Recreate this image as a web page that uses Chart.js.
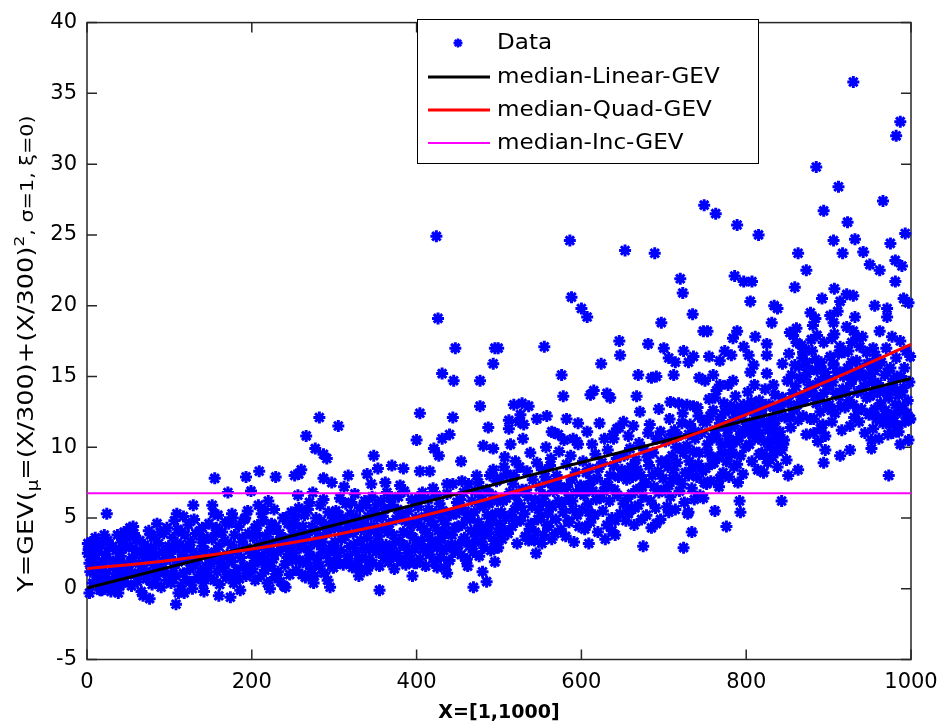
<!DOCTYPE html>
<html>
<head>
<title>GEV median fits</title>
<script src="https://cdn.jsdelivr.net/npm/chart.js"></script>
<style>
body { margin: 0; background: #fff; }
canvas { display: block; }
</style>
</head>
<body>
<canvas id="gevChart" width="941" height="728"></canvas>
<script>
// scatter points, [x, y]
const ptsLeft = [
  [2,2.8],[4,1.2],[5,3.3],[7,0.4],[8,2.1],[10,3.6],[11,1.6],[13,0.9],[14,2.6],[16,-0.1],[17,3.1],[19,1.9],[20,0.3],[22,2.4],[23,1.1],[25,3.4],[26,0.6],[28,2.0],[29,-0.2],[31,3.0],[32,1.5],[34,0.8],[35,2.7],[37,3.8],[38,1.2],[40,0.2],[41,2.3],[43,3.3],[44,1.7],[46,0.5],[47,2.9],[49,1.0],[3,1.8],[9,2.9],[21,3.8],[36,1.9],[45,4.0],[30,0.0],[12,3.2],
  [24,5.3],[3,-0.3],[18,-0.1],[38,-0.3],[1,2.5],[1,3.2],
  [6,2.4],[15,1.4],[27,2.9],[33,0.2],[39,2.8],[42,0.9],[48,3.6],[18,0.6],
  [51,1.3],[52,3.0],[54,0.2],[55,2.2],[57,3.9],[58,1.0],[60,2.7],[61,0.5],[63,1.8],[64,3.4],[66,-0.2],[67,2.4],[69,1.4],[70,3.1],[72,0.7],[73,2.0],[75,4.1],[76,1.1],[78,2.9],[79,0.3],[81,1.7],[82,3.6],[84,2.4],[85,0.9],[87,3.2],[88,1.5],[90,0.1],[91,2.6],[93,3.9],[94,1.2],[96,2.1],[97,0.6],[99,3.0],[56,4.4],[68,-0.5],[80,2.3],[89,4.0],
  [52,4.3],[76,-0.7],[85,4.6],[97,4.3],
  [53,1.9],[59,3.5],[62,1.1],[71,2.6],[77,3.8],[83,0.4],[92,1.8],[98,2.7],
  [101,2.2],[102,0.4],[104,3.6],[105,1.5],[107,2.8],[108,0.9],[110,4.2],[111,1.9],[113,3.1],[114,0.2],[116,2.4],[117,1.1],[119,3.8],[120,0.6],[122,2.0],[123,4.5],[125,1.4],[126,3.3],[128,0.0],[129,2.6],[131,1.7],[132,3.9],[134,0.8],[135,2.3],[137,4.1],[138,1.2],[140,3.0],[141,0.4],[143,2.7],[144,1.6],[146,3.6],[147,0.9],[149,2.1],[106,4.8],[118,-0.3],[130,4.9],[142,-0.2],[148,4.6],
  [109,5.3],[117,5.1],[129,5.9],[108,-1.1],[111,-0.3],[140,4.3],
  [103,1.0],[109,3.2],[115,4.0],[121,2.9],[127,0.5],[133,2.0],[139,3.5],[145,1.3],
  [151,1.8],[152,3.5],[154,0.6],[155,2.6],[157,4.3],[158,1.2],[160,3.0],[161,0.3],[163,2.1],[164,4.0],[166,1.5],[167,3.4],[169,0.8],[170,2.4],[172,4.6],[173,1.0],[175,3.1],[176,1.9],[178,0.4],[179,3.8],[181,2.7],[182,1.3],[184,4.4],[185,0.7],[187,2.2],[188,3.3],[190,1.6],[191,4.9],[193,0.9],[194,2.9],[196,3.9],[197,1.1],[199,2.5],[159,5.2],[177,5.0],[186,-0.1],[195,5.5],
  [155,7.8],[152,5.9],[171,6.8],[193,7.9],[199,6.9],[160,-0.5],[174,-0.6],[176,5.3],[192,5.0],[154,5.3],
  [153,2.0],[156,3.9],[162,1.8],[168,4.7],[174,2.2],[180,0.9],[189,3.6],[198,1.6],
  [201,1.4],[202,3.6],[204,0.6],[205,2.5],[207,4.5],[208,1.9],[210,3.2],[211,0.9],[213,2.3],[214,4.8],[216,1.3],[217,3.7],[219,0.4],[220,2.8],[222,4.1],[223,1.6],[225,3.3],[226,2.1],[228,0.8],[229,4.4],[231,2.6],[232,1.2],[234,3.9],[235,0.5],[237,2.9],[238,5.0],[240,1.7],[241,3.5],[243,2.2],[244,4.6],[246,1.0],[247,3.0],[249,2.0],[212,5.3],[227,5.6],[239,0.2],[248,5.4],
  [209,8.3],[229,7.9],[220,6.2],[216,5.6],[222,0.0],[241,0.1],[208,5.9],[204,4.3],[224,4.6],[241,5.0],[249,4.3],
  [203,2.2],[206,3.9],[215,3.0],[218,1.8],[224,2.5],[230,1.0],[236,3.4],[245,2.7]
];
const ptsMidLeft = [
  [251,2.5],[252,4.6],[254,1.3],[255,3.4],[257,5.7],[258,2.0],[260,4.0],[261,1.0],[263,3.0],[264,5.2],[266,1.8],[267,3.8],[269,2.6],[270,6.1],[272,1.4],[273,4.4],[275,3.2],[276,0.9],[278,5.0],[279,2.2],[281,3.6],[282,1.6],[284,4.8],[285,2.8],[287,6.3],[288,1.1],[290,3.9],[291,2.4],[293,5.4],[294,1.9],[296,4.2],[297,3.0],[299,1.5],[256,6.6],[274,6.8],[292,0.6],
  [266,10.8],[282,12.1],[277,9.9],[287,9.5],[291,9.2],[260,8.4],[257,8.1],[287,7.8],[297,7.5],[265,0.8],[275,0.4],[295,0.1],[252,8.0],
  [250,3.8],[253,5.1],[259,2.9],[262,4.4],[265,3.5],[268,5.6],[271,2.3],[277,4.1],[280,1.8],[283,5.9],[286,3.3],[289,4.5],[295,2.6],[298,5.0],[262,1.9],
  [301,3.3],[302,5.5],[304,2.0],[305,4.3],[307,6.4],[308,2.7],[310,4.9],[311,1.7],[313,3.7],[314,6.0],[316,2.3],[317,4.6],[319,3.0],[320,5.3],[322,1.5],[323,3.9],[325,6.7],[326,2.6],[328,4.4],[329,1.9],[331,5.7],[332,3.4],[334,2.2],[335,4.8],[337,6.2],[338,1.4],[340,3.6],[341,5.1],[343,2.8],[344,4.1],[346,6.5],[347,1.8],[349,3.2],[312,7.2],[330,0.9],[345,7.4],
  [305,11.5],[317,8.0],[340,8.1],[348,9.4],[328,1.5],[340,1.3],[299,1.5],
  [300,4.6],[303,2.6],[306,5.2],[309,3.5],[315,4.0],[318,1.9],[321,6.1],[324,3.1],[327,5.0],[333,4.2],[336,2.9],[339,5.9],[342,2.1],[345,4.4],[348,5.5],
  [351,2.6],[352,5.0],[354,3.7],[355,1.6],[357,6.2],[358,4.3],[360,2.2],[361,5.6],[363,3.1],[364,6.8],[366,1.9],[367,4.6],[369,2.9],[370,5.9],[372,3.8],[373,1.4],[375,4.9],[376,2.5],[378,6.5],[379,3.4],[381,5.2],[382,2.0],[384,4.0],[385,6.9],[387,1.7],[388,3.0],[390,5.5],[391,2.3],[393,4.5],[394,6.3],[396,3.6],[397,1.8],[399,5.0],[362,7.5],[380,7.3],[395,0.9],
  [355,-0.1],[353,8.5],[370,8.7],[384,8.5],[380,2.0],
  [350,4.2],[353,6.0],[356,3.0],[359,5.1],[362,2.6],[365,4.0],[368,6.4],[371,2.3],[374,3.3],[377,5.6],[383,3.1],[386,4.8],[389,2.5],[392,3.9],[398,2.8],
  [401,3.2],[402,5.8],[404,2.1],[405,4.4],[407,6.8],[408,2.8],[410,5.1],[411,1.6],[413,3.9],[414,6.3],[416,2.4],[417,4.8],[419,3.4],[420,7.1],[422,1.9],[423,5.4],[425,2.9],[426,4.1],[428,6.0],[429,2.2],[431,3.6],[432,5.5],[434,1.5],[435,4.6],[437,6.7],[438,3.0],[440,2.0],[441,5.2],[443,3.8],[444,7.4],[446,2.6],[447,4.3],[449,6.1],
  [426,19.1],[447,17.0],[431,15.2],[445,14.7],[404,12.4],[444,12.1],[400,10.5],[431,10.6],[440,10.9],[421,9.9],[427,9.4],[404,8.3],[416,8.3],[437,7.4],[437,1.1],[400,1.8],[425,1.5],[424,24.9],
  [400,4.7],[403,6.4],[406,3.4],[409,4.2],[412,2.6],[415,5.6],[418,3.1],[421,4.5],[424,6.6],[427,3.3],[430,5.0],[433,2.7],[436,4.0],[442,3.1],[448,5.3],
  [451,3.1],[452,5.6],[454,2.4],[455,4.5],[457,6.8],[458,3.6],[460,2.0],[461,5.0],[463,7.4],[464,3.0],[466,4.1],[467,6.2],[469,2.6],[470,5.4],[472,3.7],[473,8.0],[475,4.7],[476,2.3],[478,6.5],[479,3.3],[481,5.8],[482,2.9],[484,4.3],[485,7.0],[487,3.9],[488,6.0],[490,2.7],[491,4.9],[493,8.4],[494,3.4],[496,5.3],[497,7.6],[499,4.0],[462,1.6],[480,1.2],[495,1.9],
  [495,17.0],[493,15.9],[477,14.7],[477,12.9],[487,11.4],[454,9.0],[481,10.1],[493,9.9],[455,7.6],[475,7.5],[489,8.0],[461,2.1],[469,0.1],[485,0.5],[497,2.9],[499,17.0],
  [450,4.4],[453,6.3],[456,3.4],[459,5.5],[465,4.9],[468,3.2],[471,6.9],[474,4.2],[477,5.9],[483,3.8],[486,5.2],[489,4.5],[492,6.6],[495,3.0],[498,6.2]
];
const ptsMidRight = [
  [501,4.6],[502,7.8],[504,3.5],[505,6.2],[507,9.3],[508,5.0],[510,8.1],[511,3.9],[513,6.8],[514,10.2],[516,4.4],[517,7.4],[519,5.6],[520,9.0],[522,3.2],[523,6.0],[525,8.6],[526,4.8],[528,7.0],[529,10.6],[531,5.3],[532,3.7],[534,8.3],[535,6.5],[537,4.2],[538,9.6],[540,5.8],[541,7.7],[543,3.4],[544,6.3],[546,8.9],[547,4.9],[549,7.2],[512,11.3],[530,11.6],[545,2.5],
  [518,13.0],[528,13.1],[536,12.9],[526,12.3],[524,11.8],[512,11.9],[546,12.0],[499,2.9],[536,3.4],[520,4.8],[507,4.1],[544,4.0],
  [503,5.4],[506,8.6],[509,6.4],[515,5.2],[518,8.0],[521,6.6],[527,5.8],[533,7.0],[539,4.6],[548,5.6],
  [551,5.1],[552,8.4],[554,3.8],[555,6.6],[557,10.0],[558,4.5],[560,7.5],[561,5.9],[563,9.2],[564,3.5],[566,6.9],[567,11.0],[569,4.9],[570,8.0],[572,6.2],[573,9.7],[575,4.2],[576,7.1],[578,5.4],[579,10.5],[581,3.7],[582,8.8],[584,6.4],[585,4.7],[587,9.4],[588,7.7],[590,5.6],[591,3.3],[593,8.2],[594,6.8],[596,10.2],[597,4.4],[599,7.3],
  [586,24.6],[588,20.6],[555,17.1],[576,15.1],[578,13.6],[558,12.2],[582,12.0],[596,11.7],[564,11.1],[572,10.9],[590,10.6],[594,10.4],[552,3.2],[584,4.8],[568,3.9],[560,4.4],
  [553,6.1],[556,7.9],[559,5.3],[562,8.7],[565,5.8],[571,7.4],[577,6.0],[583,7.2],[589,6.2],[595,5.2],
  [601,5.6],[602,9.0],[604,4.2],[605,7.2],[607,11.1],[608,6.0],[610,8.5],[611,4.7],[613,10.2],[614,6.9],[616,5.2],[617,9.5],[619,7.8],[620,4.0],[622,11.7],[623,6.4],[625,8.9],[626,5.5],[628,10.6],[629,7.4],[631,4.5],[632,9.8],[634,6.2],[635,8.0],[637,5.0],[638,10.9],[640,7.0],[641,3.8],[643,9.2],[644,6.6],[646,11.4],[647,5.3],[649,8.4],
  [600,19.8],[607,19.2],[624,15.9],[615,14.0],[611,13.7],[631,13.8],[635,13.5],[643,11.3],[639,10.6],[609,3.2],[629,3.5],[613,5.2],[605,4.4],[641,4.8],[637,4.1],[646,17.5],[647,16.5],
  [603,6.6],[606,8.2],[609,5.4],[612,7.6],[618,6.3],[621,8.5],[627,6.9],[633,7.3],[639,8.7],[645,7.9],
  [651,6.0],[652,9.4],[654,4.8],[655,7.7],[657,10.8],[658,5.5],[660,8.6],[661,6.7],[663,11.5],[664,4.5],[666,9.1],[667,7.0],[669,5.9],[670,10.3],[672,8.0],[673,4.9],[675,6.5],[676,9.8],[678,7.5],[679,5.2],[681,11.0],[682,8.7],[684,6.2],[685,4.3],[687,9.6],[688,7.2],[690,5.7],[691,10.6],[693,8.3],[694,6.8],[696,4.9],[697,9.0],[699,7.8],
  [653,23.9],[689,23.7],[697,18.8],[681,17.3],[700,17.0],[669,15.1],[685,14.9],[691,15.0],[667,13.6],[694,12.7],[671,12.5],[651,11.8],[683,11.6],[696,11.1],[675,3.0],[691,4.6],[661,5.7],[657,5.3],
  [653,8.1],[656,6.4],[659,9.9],[662,7.9],[665,5.7],[668,8.4],[674,7.2],[680,9.3],[686,8.0],[692,7.0],
  [701,7.0],[702,10.4],[704,5.8],[705,8.6],[707,12.0],[708,6.5],[710,9.4],[711,7.8],[713,11.2],[714,5.6],[716,8.9],[717,10.8],[719,6.9],[720,9.9],[722,7.4],[723,12.4],[725,6.1],[726,8.2],[728,10.1],[729,5.3],[731,9.0],[732,11.6],[734,7.1],[735,8.5],[737,6.3],[738,10.6],[740,7.9],[741,12.8],[743,9.6],[744,6.6],[746,11.0],[747,8.3],[749,7.5],
  [720,21.9],[723,20.9],[735,19.4],[748,18.2],[706,16.3],[714,16.0],[724,16.8],[736,16.4],[730,16.0],[712,15.1],[743,14.9],[708,13.2],[718,13.1],[728,13.0],[736,12.9],[742,12.2],[748,11.8],[722,11.7],[730,10.9],[738,11.1],[724,2.9],[706,5.4],[730,5.4],[734,4.0],[749,27.1],
  [703,9.0],[706,7.3],[709,10.9],[712,8.4],[715,10.0],[718,7.7],[724,9.6],[730,8.0],[736,9.7],[742,8.8]
];
const ptsRight = [
  [751,8.5],[752,11.8],[754,9.6],[755,13.4],[757,7.6],[758,10.7],[760,12.6],[761,8.9],[763,11.2],[764,14.0],[766,9.3],[767,7.2],[769,12.1],[770,10.2],[772,8.2],[773,13.1],[775,11.5],[776,9.0],[778,10.8],[779,7.9],[781,12.9],[782,9.8],[784,11.9],[785,8.6],[787,13.6],[788,10.4],[790,7.5],[791,12.3],[793,9.4],[794,11.1],[796,8.1],[797,13.0],[799,10.0],
  [763,26.5],[789,25.7],[786,22.1],[797,21.7],[753,18.2],[789,18.2],[784,17.7],[774,16.8],[782,16.5],[797,17.1],[755,16.4],[768,16.1],[750,14.7],[760,15.1],[768,14.4],[778,14.4],[784,14.7],[758,8.8],[768,7.8],[752,7.4],[748,6.4],[762,5.5],[776,4.4],[792,6.2],[793,5.4],[782,9.5],[789,8.8],
  [753,10.2],[756,12.2],[759,9.2],[762,13.5],[765,10.6],[768,11.7],[771,9.6],[774,12.5],[777,11.2],[780,10.3],[783,12.6],[786,11.5],[789,12.8],[792,10.7],[795,12.0],
  [801,11.4],[802,13.9],[804,10.2],[805,12.6],[807,9.0],[808,11.8],[810,14.4],[811,10.7],[813,12.2],[814,8.4],[816,13.3],[817,11.0],[819,9.6],[820,12.8],[822,10.4],[823,14.1],[825,11.6],[826,8.9],[828,13.0],[829,10.0],[831,12.0],[832,9.3],[834,11.3],[835,13.7],[837,10.8],[838,8.6],[840,12.5],[841,11.1],[843,9.8],[844,13.5],[846,10.5],[847,12.1],[849,9.1],
  [815,25.0],[807,21.7],[805,20.3],[834,20.0],[838,19.8],[831,18.8],[811,17.8],[825,17.3],[803,16.5],[825,16.5],[805,15.3],[809,15.8],[844,15.9],[825,15.2],[833,14.4],[816,9.5],[825,9.2],[821,8.2],[843,6.2],[837,9.7],[845,10.2],[801,11.3],[809,10.9],
  [800,12.6],[803,11.0],[806,13.2],[809,12.9],[812,11.5],[815,10.6],[818,12.4],[821,11.8],[824,13.0],[827,11.2],[830,10.5],[833,12.8],[836,11.9],[839,10.2],[842,12.9],
  [851,13.2],[852,16.6],[854,11.4],[855,15.1],[857,17.9],[858,12.6],[860,14.3],[861,18.4],[863,11.9],[864,15.7],[866,13.6],[867,17.2],[869,12.2],[870,14.8],[872,16.9],[873,10.9],[875,13.9],[876,15.5],[878,12.0],[879,17.6],[881,14.2],[882,11.0],[884,16.2],[885,13.1],[887,10.4],[888,14.6],[890,12.5],[891,16.0],[893,11.6],[894,13.8],[896,10.8],[897,15.0],[899,12.9],
  [885,29.8],[894,26.7],[863,23.7],[873,22.5],[859,21.3],[892,20.5],[878,19.5],[884,19.1],[881,18.6],[853,18.1],[861,17.4],[886,17.9],[894,17.4],[869,16.7],[873,16.0],[890,15.7],[896,15.3],[898,14.6],[851,8.0],[863,8.4],[896,9.8],[894,8.9],[882,12.0],[890,11.3],
  [850,14.7],[853,12.1],[856,13.8],[859,15.8],[862,13.0],[865,14.9],[868,16.3],[871,13.3],[874,15.2],[877,14.4],[880,16.8],[883,13.6],[886,15.4],[889,13.3],[892,14.7],
  [901,13.0],[902,16.4],[904,11.8],[905,14.6],[907,18.0],[908,12.4],[910,15.3],[911,19.6],[913,13.6],[914,17.1],[916,11.2],[917,14.1],[919,16.7],[920,12.8],[922,18.5],[923,15.6],[925,13.3],[926,11.5],[928,17.4],[929,14.9],[931,12.1],[932,19.2],[934,16.1],[935,13.9],[937,11.8],[938,15.0],[940,12.7],[941,17.8],[943,14.3],[944,11.0],[946,13.5],[947,15.9],[949,12.3],
  [930,35.8],[912,28.4],[923,25.9],[906,24.6],[917,23.7],[932,24.7],[942,23.8],[907,21.2],[914,20.3],[922,20.8],[930,20.7],[902,19.3],[906,18.8],[904,17.7],[930,18.2],[934,17.7],[938,17.1],[946,16.7],[906,15.8],[914,15.3],[928,16.0],[938,15.4],[914,9.4],[926,9.8],[950,22.9],
  [900,14.2],[903,12.6],[906,15.9],[909,13.8],[912,16.6],[915,12.9],[918,15.0],[921,13.9],[924,16.8],[927,14.5],[930,13.0],[933,15.2],[936,12.6],[939,14.0],[945,15.0],
  [951,12.4],[952,15.2],[954,11.3],[955,13.8],[957,16.5],[958,12.0],[960,14.5],[961,10.6],[963,13.1],[964,16.0],[966,11.7],[967,14.0],[969,12.6],[970,17.0],[972,10.9],[973,13.5],[975,15.6],[976,12.2],[978,11.0],[979,14.8],[981,13.0],[982,16.3],[984,11.5],[985,13.7],[987,10.2],[988,15.0],[990,12.7],[991,14.2],[993,11.8],[994,16.8],[996,13.3],[997,10.5],[999,12.0],
  [987,33.0],[982,32.0],[966,27.4],[975,24.4],[993,25.1],[962,22.5],[981,23.2],[989,22.8],[981,21.7],[956,20.0],[971,19.8],[971,19.2],[991,20.5],[997,20.2],[962,18.2],[977,17.8],[987,17.5],[954,17.0],[999,16.4],[950,15.9],[956,15.4],[971,15.3],[983,15.0],[952,10.5],[952,9.9],[973,8.0],[985,11.1],[999,12.0],[971,12.2],[979,11.8],[987,12.5],
  [950,13.6],[953,14.6],[956,12.7],[959,15.8],[962,13.9],[965,12.1],[968,15.1],[971,13.8],[974,11.6],[977,14.4],[980,12.3],[983,14.0],[986,12.9],[989,13.9],[992,15.6],[995,12.4],[998,14.6]
];

// median curves
const linearX = [0, 1000];
const linearY = [0.05, 14.85];
const quadX = [0, 100, 200, 300, 400, 500, 600, 700, 800, 900, 1000];
const quadY = [1.42, 2.0, 2.8, 3.8, 5.05, 6.55, 8.25, 10.15, 12.3, 14.7, 17.27];
const incX = [0, 1000];
const incY = [6.75, 6.75];

const seriesNames = ['Data', 'median-Linear-GEV', 'median-Quad-GEV', 'median-Inc-GEV'];
const xTitle = 'X=[1,1000]';
// [text, font size, baseline shift]
const yTitleParts = [
  ['Y=GEV(', 21, 0], ['\u03bc', 15, 5], ['=(X/300)+(X/300)', 21, 0], ['2', 14, -9],
  [', \u03c3=1, \u03be=0)', 17, 0]
];

const toXY = (xs, ys) => xs.map((x, i) => ({ x: x, y: ys[i] }));
const allPts = ptsLeft.concat(ptsMidLeft, ptsMidRight, ptsRight).map(p => ({ x: p[0], y: p[1] }));

const FONT = '"DejaVu Sans", sans-serif';

function drawStar(ctx, x, y, r) {
  const d = r * Math.SQRT1_2;
  ctx.beginPath();
  ctx.moveTo(x - r, y); ctx.lineTo(x + r, y);
  ctx.moveTo(x, y - r); ctx.lineTo(x, y + r);
  ctx.moveTo(x - d, y - d); ctx.lineTo(x + d, y + d);
  ctx.moveTo(x - d, y + d); ctx.lineTo(x + d, y - d);
  ctx.stroke();
}

// matlab style box, inward ticks, axis titles and the boxed legend
const matlabAxes = {
  id: 'matlabAxes',
  beforeDatasetsDraw(chart) {
    const { ctx, chartArea: a, scales: { x, y } } = chart;
    ctx.save();
    ctx.strokeStyle = '#262626';
    ctx.lineWidth = 1.5;
    ctx.beginPath();
    x.ticks.forEach(t => {
      const p = x.getPixelForValue(t.value);
      ctx.moveTo(p, a.bottom); ctx.lineTo(p, a.bottom - 10);
      ctx.moveTo(p, a.top); ctx.lineTo(p, a.top + 10);
    });
    y.ticks.forEach(t => {
      const p = y.getPixelForValue(t.value);
      ctx.moveTo(a.left, p); ctx.lineTo(a.left + 10, p);
      ctx.moveTo(a.right, p); ctx.lineTo(a.right - 10, p);
    });
    ctx.stroke();
    ctx.strokeRect(a.left, a.top, a.width, a.height);

    // x title
    ctx.fillStyle = '#000';
    ctx.font = 'bold 19px ' + FONT;
    ctx.textAlign = 'center';
    ctx.textBaseline = 'alphabetic';
    ctx.fillText(xTitle, (a.left + a.right) / 2, 718);

    // y title, rotated, with sub/superscripts, a bit wide like the matlab font
    ctx.translate(33, 592);
    ctx.rotate(-Math.PI / 2);
    ctx.scale(1.22, 1);
    ctx.textAlign = 'left';
    let pos = 0;
    yTitleParts.forEach(([txt, size, dy]) => {
      ctx.font = size + 'px ' + FONT;
      ctx.fillText(txt, pos, dy);
      pos += ctx.measureText(txt).width;
    });
    ctx.restore();
  },
  afterDatasetsDraw(chart) {
    const { ctx } = chart;
    const ds = chart.data.datasets;
    const rows = [43, 77, 110, 143];
    ctx.save();
    ctx.fillStyle = '#fff';
    ctx.fillRect(417, 19, 341, 144);
    ctx.strokeStyle = '#000';
    ctx.lineWidth = 1;
    ctx.strokeRect(417.5, 19.5, 341, 144);
    ds.forEach((d, i) => {
      const ry = rows[i];
      ctx.strokeStyle = d.borderColor;
      if (i === 0) {
        ctx.lineWidth = 2.5;
        drawStar(ctx, 458, ry, 4.5);
      } else {
        ctx.lineWidth = d.borderWidth;
        ctx.beginPath();
        ctx.moveTo(428, ry); ctx.lineTo(490, ry);
        ctx.stroke();
      }
      ctx.save();
      ctx.translate(497, ry + 1);
      ctx.scale(1.1, 1);
      ctx.fillStyle = '#000';
      ctx.font = '21px ' + FONT;
      ctx.textAlign = 'left';
      ctx.textBaseline = 'middle';
      ctx.fillText(d.label, 0, 0);
      ctx.restore();
    });
    ctx.restore();
  }
};

const ctx = document.getElementById('gevChart').getContext('2d');
const gevChart = new Chart(ctx, {
  type: 'scatter',
  data: {
    datasets: [
      {
        label: seriesNames[0],
        data: allPts,
        pointStyle: 'star',
        pointRadius: 6,
        pointBorderWidth: 3,
        borderColor: '#0000ff',
        backgroundColor: '#0000ff',
        showLine: false,
        clip: false,
        order: 4
      },
      {
        label: seriesNames[1],
        data: toXY(linearX, linearY),
        showLine: true,
        pointRadius: 0,
        borderColor: '#000000',
        borderWidth: 3,
        order: 3
      },
      {
        label: seriesNames[2],
        data: toXY(quadX, quadY),
        showLine: true,
        cubicInterpolationMode: 'monotone',
        pointRadius: 0,
        borderColor: '#ff0000',
        borderWidth: 3,
        order: 2
      },
      {
        label: seriesNames[3],
        data: toXY(incX, incY),
        showLine: true,
        pointRadius: 0,
        borderColor: '#ff00ff',
        borderWidth: 2,
        order: 1
      }
    ]
  },
  options: {
    responsive: false,
    animation: false,
    devicePixelRatio: 1,
    events: [],
    layout: { padding: { top: 18, right: 30, left: 0, bottom: 0 } },
    plugins: { legend: { display: false }, tooltip: { enabled: false } },
    scales: {
      x: {
        type: 'linear',
        min: 0,
        max: 1000,
        grid: { display: false, drawTicks: false },
        border: { display: false },
        ticks: { stepSize: 200, color: '#000', padding: 10, font: { family: FONT, size: 21 }, callback: v => String(v) },
        afterFit: s => { s.height = 68.5; s.paddingRight = 0; s.paddingLeft = 0; }
      },
      y: {
        min: -5,
        max: 40,
        grid: { display: false, drawTicks: false },
        border: { display: false },
        ticks: { stepSize: 5, color: '#000', padding: 10, font: { family: FONT, size: 21 }, callback: v => String(v) },
        afterFit: s => { s.width = 87; }
      }
    }
  },
  plugins: [matlabAxes]
});
</script>
</body>
</html>
